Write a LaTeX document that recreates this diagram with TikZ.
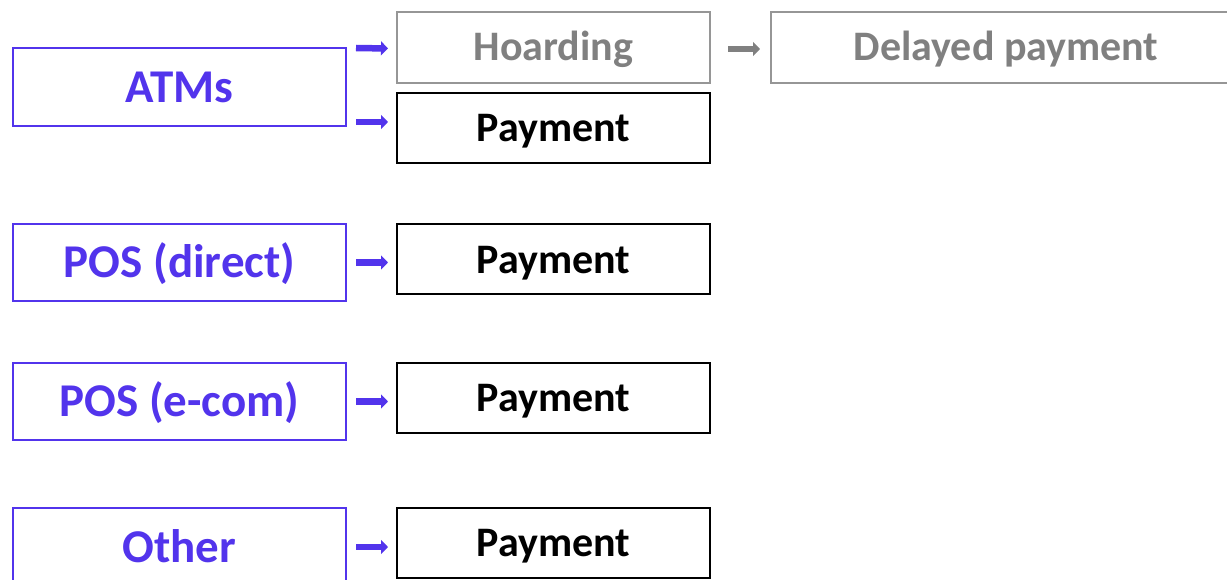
\documentclass[tikz,border=0pt]{standalone}
\usepackage{fontspec}
\setmainfont{Carlito}
\usetikzlibrary{arrows.meta}
\definecolor{chanblue}{RGB}{82,52,236}
\definecolor{fadegray}{RGB}{128,128,128}
\definecolor{fadeline}{RGB}{150,150,150}
\tikzset{
  box/.style={rectangle, draw, line width=2pt, inner sep=0pt, text depth=0pt},
  channel/.style={box, draw=chanblue, text=chanblue, minimum width=333pt,
    text height=30.3pt, font=\fontsize{47}{56}\selectfont\bfseries},
  outcome/.style={box, draw=black, text=black, minimum width=313pt, minimum height=70pt,
    text height=27pt, font=\fontsize{42}{50}\selectfont\bfseries},
  later/.style={box, draw=fadeline, text=fadegray, minimum height=71pt,
    text height=27pt, font=\fontsize{42}{50}\selectfont\bfseries},
  flow/.style={line width=6.5pt, -{Triangle[length=7pt,width=14pt]}},
}
\begin{document}
\begin{tikzpicture}[x=1pt,y=-1pt]
\useasboundingbox (0,0) rectangle (1227,580);
% sources of cash
\node[channel, minimum height=78pt] (atm)  at (179.5,87)    {ATMs};
\node[channel, minimum height=77pt] (posd) at (179.5,262.5) {POS (direct)};
\node[channel, minimum height=77pt] (pose) at (179.5,401.5) {POS (e-com)};
\node[channel, minimum height=78pt] (oth)  at (179.5,547)   {Other};
% uses
\node[later, minimum width=313pt] (hoard) at (553.5,47.5) {Hoarding};
\node[later, minimum width=470pt] (delay) at (1006,47.5)  {Delayed payment};
\node[outcome] (pay1) at (553.5,128)   {Payment};
\node[outcome] (pay2) at (553.5,259.5) {Payment};
\node[outcome] (pay3) at (553.5,398)   {Payment};
\node[outcome] (pay4) at (553.5,543)   {Payment};
% flows
\draw[flow, chanblue] ([shift={(9,1)}]atm.north east) -- ([shift={(-8,1.5)}]hoard.west |- atm.north east);
\draw[flow, chanblue] ([shift={(9,-5)}]atm.south east) -- ([shift={(-8,-5)}]pay1.west |- atm.south east);
\draw[flow, chanblue] ([xshift=9pt]posd.east) -- ([xshift=-8pt]pay2.west |- posd.east);
\draw[flow, chanblue] ([xshift=9pt]pose.east) -- ([xshift=-8pt]pay3.west |- pose.east);
\draw[flow, chanblue] ([xshift=9pt]oth.east) -- ([xshift=-8pt]pay4.west |- oth.east);
\draw[flow, fadegray] ([shift={(17,1.5)}]hoard.east) -- ([shift={(-10,1.5)}]delay.west);
\end{tikzpicture}
\end{document}
